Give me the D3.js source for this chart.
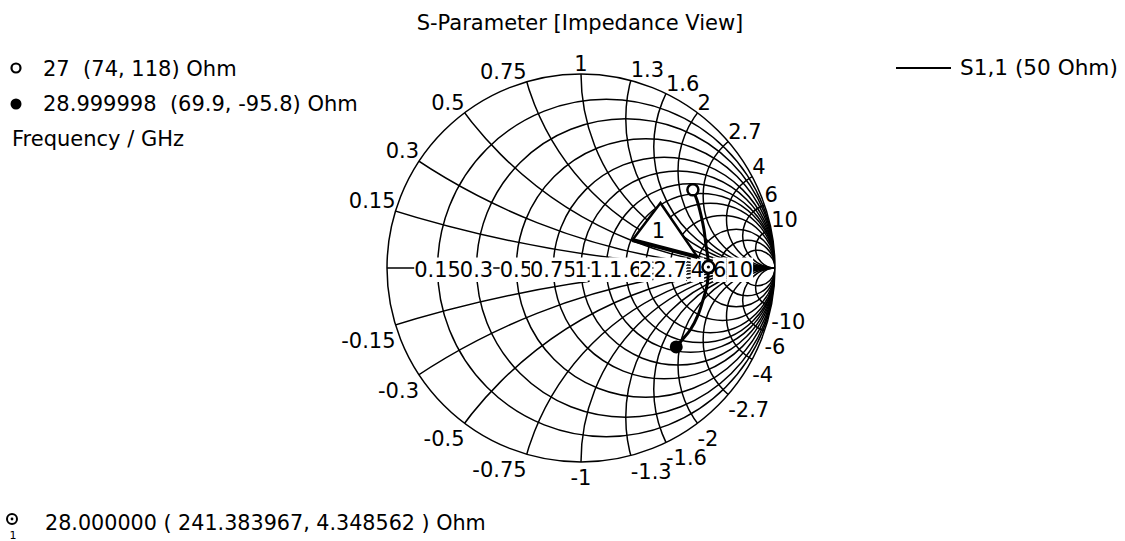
<!DOCTYPE html>
<meta charset="utf-8">
<script src="https://d3js.org/d3.v7.min.js"></script>
<style>
body { margin: 0; background: #fff; }
text { font-family: "DejaVu Sans", Verdana, sans-serif; fill: #000; white-space: pre; }
</style>
<div id="smith"></div>
<script>
// grid values of the chart (resistance circles and reactance arcs)
var gridValues = [0.15, 0.3, 0.5, 0.75, 1, 1.3, 1.6, 2, 2.7, 4, 6, 10];

// S1,1 trace
var freqGHz  = [27, 27.167, 27.333, 27.5, 27.667, 27.833, 28, 28.167, 28.333, 28.5, 28.667, 28.833, 29];
var resOhm   = [74, 91, 123, 162, 203, 233, 241.4, 219, 175, 134, 99, 80.5, 69.9];
var reactOhm = [118, 123, 124, 114, 84, 42, 4.35, -67, -100, -112, -109, -101, -95.8];
var z0 = 50;

// legend texts
var legendLines = ["27  (74, 118) Ohm", "28.999998  (69.9, -95.8) Ohm", "Frequency / GHz"];
var markerText = "28.000000 ( 241.383967, 4.348562 ) Ohm";

var W = 1125, H = 541;
var cx = 581, cy = 268, R = 194;
var fs = "21px";

var svg = d3.select("#smith").append("svg")
  .attr("width", W).attr("height", H);

// reflection plane -> pixels
var x = d3.scaleLinear().domain([-1, 1]).range([cx - R, cx + R]);
var y = d3.scaleLinear().domain([-1, 1]).range([cy + R, cy - R]);
var k = R; // pixels per unit of gamma

function gamma(r, xi) {
  // (z-1)/(z+1)
  var den = (r + 1) * (r + 1) + xi * xi;
  return [((r - 1) * (r + 1) + xi * xi) / den, 2 * xi / den];
}

svg.append("clipPath").attr("id", "unit")
  .append("circle").attr("cx", cx).attr("cy", cy).attr("r", R);

var grid = svg.append("g").attr("clip-path", "url(#unit)")
  .attr("fill", "none").attr("stroke", "#000").attr("stroke-width", 1.5);

// resistance circles
grid.selectAll("circle.res").data(gridValues).enter().append("circle")
  .attr("class", "res")
  .attr("cx", function (r) { return x(r / (r + 1)); })
  .attr("cy", y(0))
  .attr("r", function (r) { return k / (r + 1); });

// reactance arcs, both signs
var reactVals = gridValues.concat(gridValues.map(function (v) { return -v; }));
grid.selectAll("circle.rea").data(reactVals).enter().append("circle")
  .attr("class", "rea")
  .attr("cx", x(1))
  .attr("cy", function (v) { return y(1 / v); })
  .attr("r", function (v) { return k / Math.abs(v); });

// outer circle and real axis
svg.append("circle").attr("cx", cx).attr("cy", cy).attr("r", R)
  .attr("fill", "none").attr("stroke", "#000").attr("stroke-width", 1.5);
svg.append("line")
  .attr("x1", x(-1)).attr("x2", x(1)).attr("y1", y(0)).attr("y2", y(0))
  .attr("stroke", "#000").attr("stroke-width", 1.5);

// labels on the real axis with white boxes, later ones cover earlier ones
gridValues.forEach(function (r) {
  var g = svg.append("g");
  var bg = g.append("rect").attr("fill", "#fff");
  var px = x((r - 1) / (r + 1));
  var t = g.append("text")
    .attr("x", px)
    .attr("y", y(0) + 9)
    .attr("text-anchor", "middle")
    .style("font-size", fs)
    .text(r);
  var w = t.node().getComputedTextLength();
  bg.attr("x", px - w / 2).attr("width", w)
    .attr("y", y(0) + 9 - 19.5).attr("height", 24.5);
});

// dotted tick next to the marker
svg.append("line")
  .attr("x1", 686.5).attr("x2", 686.5).attr("y1", 262).attr("y2", 284)
  .attr("stroke", "#555").attr("stroke-width", 1).attr("stroke-dasharray", "1,2");

// reactance labels round the rim
svg.append("g").selectAll("text").data(reactVals).enter().append("text")
  .style("font-size", fs)
  .attr("text-anchor", function (v) {
    var a = Math.abs(v);
    return a === 1 ? "middle" : (a > 1 ? "start" : "end");
  })
  .attr("x", function (v) { return x(gamma(0, v)[0]); })
  .attr("y", function (v) {
    var py = y(gamma(0, v)[1]);
    return v > 0 ? py - 3 : py + 23;
  })
  .text(function (v) { return v; });

// trace
var pts = resOhm.map(function (r, i) { return gamma(r / z0, reactOhm[i] / z0); });
var line = d3.line()
  .x(function (d) { return x(d[0]); })
  .y(function (d) { return y(d[1]); })
  .curve(d3.curveCatmullRom);
svg.append("path").datum(pts).attr("d", line)
  .attr("fill", "none").attr("stroke", "#000").attr("stroke-width", 3);

var pStart = pts[0], pEnd = pts[pts.length - 1], pMid = pts[freqGHz.indexOf(28)];

// marker 1 flag
var mx = x(pMid[0]), my = y(pMid[1]);
svg.append("path")
  .attr("d", "M" + (mx - 48) + "," + (my - 64) + "L" + (mx - 76) + "," + (my - 27) + "L" + (mx - 11) + "," + (my - 10) + "Z")
  .attr("fill", "#fff").attr("stroke", "#000").attr("stroke-width", 2.5).attr("stroke-linejoin", "miter");
svg.append("line")
  .attr("x1", mx - 76).attr("y1", my - 27).attr("x2", mx - 11).attr("y2", my - 10)
  .attr("stroke", "#000").attr("stroke-width", 4);
svg.append("text").attr("x", mx - 50).attr("y", my - 29)
  .attr("text-anchor", "middle").style("font-size", fs).text("1");

// trace markers
svg.append("circle").attr("cx", x(pStart[0])).attr("cy", y(pStart[1])).attr("r", 5.5)
  .attr("fill", "#fff").attr("stroke", "#000").attr("stroke-width", 2.5);
svg.append("circle").attr("cx", x(pEnd[0])).attr("cy", y(pEnd[1])).attr("r", 6.5)
  .attr("fill", "#000");
svg.append("circle").attr("cx", mx).attr("cy", my).attr("r", 6)
  .attr("fill", "#fff").attr("stroke", "#000").attr("stroke-width", 2.5);
svg.append("circle").attr("cx", mx).attr("cy", my).attr("r", 1.6).attr("fill", "#000");

// title
svg.append("text").attr("x", 580).attr("y", 30).attr("text-anchor", "middle")
  .style("font-size", fs).text("S-Parameter [Impedance View]");

// left legend
svg.append("circle").attr("cx", 16).attr("cy", 68).attr("r", 4.5)
  .attr("fill", "#fff").attr("stroke", "#000").attr("stroke-width", 2.2);
svg.append("circle").attr("cx", 16).attr("cy", 104).attr("r", 5.5).attr("fill", "#000");
svg.append("g").selectAll("text").data(legendLines).enter().append("text")
  .attr("x", function (d, i) { return i < 2 ? 43 : 12; })
  .attr("y", function (d, i) { return 76 + i * 35; })
  .style("font-size", fs)
  .text(function (d) { return d; });

// right legend
svg.append("line").attr("x1", 896).attr("x2", 951).attr("y1", 68).attr("y2", 68)
  .attr("stroke", "#000").attr("stroke-width", 2);
svg.append("text").attr("x", 960).attr("y", 75).style("font-size", "21.6px").text("S1,1 (50 Ohm)");

// bottom marker readout
svg.append("circle").attr("cx", 12).attr("cy", 519).attr("r", 5)
  .attr("fill", "#fff").attr("stroke", "#000").attr("stroke-width", 2);
svg.append("circle").attr("cx", 12).attr("cy", 519).attr("r", 1.4).attr("fill", "#000");
svg.append("text").attr("x", 13).attr("y", 539).attr("text-anchor", "middle")
  .style("font-size", "11px").text("1");
svg.append("text").attr("x", 45).attr("y", 530).style("font-size", "20.7px").text(markerText);
</script>
